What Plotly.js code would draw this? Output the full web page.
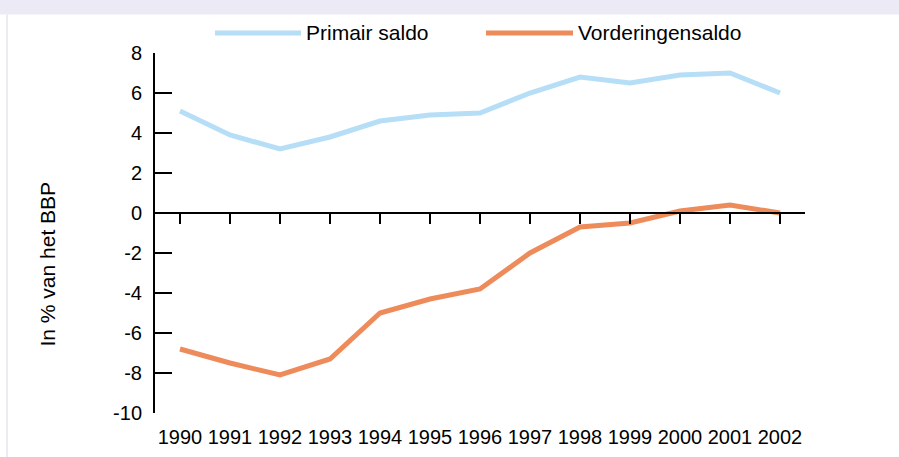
<!DOCTYPE html>
<html>
<head>
<meta charset="utf-8">
<script src="https://cdn.plot.ly/plotly-3.0.1.min.js"></script>
<style>html,body{margin:0;padding:0;background:#fff;}#chart{width:899px;height:457px;}</style>
</head>
<body>
<div id="chart"></div>
<script>
const years = [1990,1991,1992,1993,1994,1995,1996,1997,1998,1999,2000,2001,2002];
const primairSaldo = [5.1,3.9,3.2,3.8,4.6,4.9,5.0,6.0,6.8,6.5,6.9,7.0,6.0];
const vorderingensaldo = [-6.8,-7.5,-8.1,-7.3,-5.0,-4.3,-3.8,-2.0,-0.7,-0.5,0.1,0.4,0.0];
const seriesNames = ['Primair saldo','Vorderingensaldo'];
const yTicks = [-10,-8,-6,-4,-2,0,2,4,6,8];
const yTickLabels = ['-10','-8','-6','-4','-2','0','2','4','6','8'];
const yTitle = 'In % van het BBP';

const blue = '#b6def6';
const orange = '#ee8b5b';
const band = '#ebeaf5';
const font = 'Arial, "Liberation Sans", sans-serif';

const W = 899, H = 457, L = 155, R = 805, T = 53, B = 413;
const px = x => (x - L) / (R - L);
const py = y => (B - y) / (B - T);

const traces = [
  {x: years, y: primairSaldo, name: seriesNames[0], type: 'scatter', mode: 'lines',
   line: {color: blue, width: 5}, xaxis: 'x', yaxis: 'y', hoverinfo: 'x+y'},
  {x: years, y: vorderingensaldo, name: seriesNames[1], type: 'scatter', mode: 'lines',
   line: {color: orange, width: 5}, xaxis: 'x', yaxis: 'y', hoverinfo: 'x+y'}
];

const xr = [years[0] - 0.5, years[years.length - 1] + 0.5];
const yr = [yTicks[0], yTicks[yTicks.length - 1]];

const layout = {
  width: W, height: H,
  margin: {l: L, r: W - R, t: T, b: H - B, pad: 0},
  paper_bgcolor: '#ffffff', plot_bgcolor: '#ffffff',
  showlegend: false,
  font: {family: font, color: '#000', size: 20},
  xaxis: {
    range: xr, tickvals: years, ticktext: years.map(String),
    showline: false, showgrid: false, zeroline: false,
    ticks: 'outside', ticklen: 6, tickcolor: 'rgba(0,0,0,0)',
    tickfont: {family: font, size: 20, color: '#000'}
  },
  xaxis2: {
    overlaying: 'x', anchor: 'free', side: 'bottom',
    position: (0 - yr[0]) / (yr[1] - yr[0]),
    range: xr, tickvals: years, showticklabels: false,
    showline: true, linecolor: '#000', linewidth: 2,
    ticks: 'outside', ticklen: 10, tickwidth: 2, tickcolor: '#000',
    showgrid: false, zeroline: false
  },
  yaxis: {
    range: yr, tickvals: yTicks, ticktext: yTickLabels,
    showline: true, linecolor: '#000', linewidth: 2,
    ticks: 'inside', ticklen: 17, tickwidth: 2, tickcolor: '#000',
    showgrid: false, zeroline: false,
    ticklabelstandoff: 7,
    tickfont: {family: font, size: 20, color: '#000'}
  },
  shapes: [
    {type: 'rect', xref: 'paper', yref: 'paper', x0: px(0), x1: px(W), y0: py(14.5), y1: py(0),
     fillcolor: band, line: {width: 0}, layer: 'below'},
    {type: 'line', xref: 'paper', yref: 'paper', x0: px(7), x1: px(7), y0: py(14.5), y1: py(H),
     line: {color: band, width: 2}, layer: 'below'},
    {type: 'line', xref: 'paper', yref: 'paper', x0: px(215), x1: px(301), y0: py(33), y1: py(33),
     line: {color: blue, width: 5}},
    {type: 'line', xref: 'paper', yref: 'paper', x0: px(486), x1: px(573), y0: py(33), y1: py(33),
     line: {color: orange, width: 5}}
  ],
  annotations: [
    {xref: 'paper', yref: 'paper', x: px(304), y: py(33), xanchor: 'left', yanchor: 'middle',
     text: seriesNames[0], showarrow: false, font: {family: font, size: 21, color: '#000'}},
    {xref: 'paper', yref: 'paper', x: px(576), y: py(33), xanchor: 'left', yanchor: 'middle',
     text: seriesNames[1], showarrow: false, font: {family: font, size: 21, color: '#000'}},
    {xref: 'paper', yref: 'paper', x: px(47), y: py(264.5), xanchor: 'center', yanchor: 'middle',
     textangle: -90, text: yTitle, showarrow: false, font: {family: font, size: 21, color: '#000'}}
  ]
};

traces.push({x: xr, y: [0, 0], xaxis: 'x2', yaxis: 'y', type: 'scatter', mode: 'lines',
  line: {width: 0}, hoverinfo: 'skip', showlegend: false});

Plotly.newPlot('chart', traces, layout, {displayModeBar: false, staticPlot: true});
</script>
</body>
</html>
